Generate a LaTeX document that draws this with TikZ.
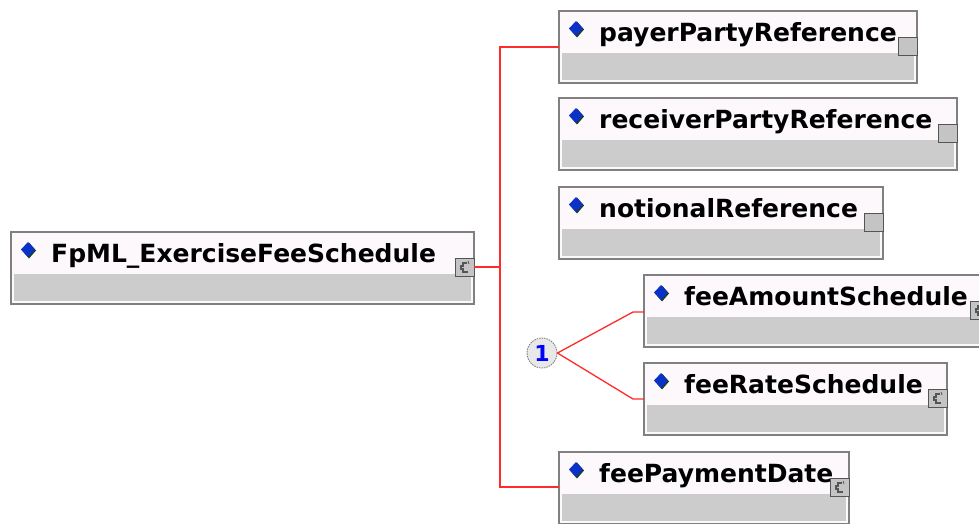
\documentclass[tikz,border=0pt]{standalone}
\usepackage{fontspec}
\setmainfont{DejaVu Sans}
\definecolor{hdr}{HTML}{FCF8FC}
\definecolor{body}{HTML}{CCCCCC}
\definecolor{frame}{HTML}{808080}
\definecolor{conncol}{HTML}{FF2A2A}
\definecolor{dia}{HTML}{0A32C8}
\definecolor{diash}{HTML}{1E3C1E}
\definecolor{iconfill}{HTML}{C4C4C4}
\definecolor{iconline}{HTML}{555555}
\tikzset{
  elem/.style={rectangle, draw=frame, line width=1.5pt, fill=hdr, minimum height=72pt, inner sep=0pt, outer sep=0pt},
  bodybox/.style={fill=body, draw=white!90!body, line width=0.8pt},
  lbl/.style={font=\fontsize{25}{30}\selectfont\bfseries, inner sep=0pt, anchor=base west},
  conn/.style={draw=conncol, line width=1.3pt},
  iconbox/.style={fill=iconfill, draw=iconline, line width=1pt},
  choicenode/.style={circle, draw=gray, dashed, dash pattern=on 1.5pt off 1pt, fill=black!9, line width=0.9pt, minimum size=30pt, inner sep=0pt, text=blue, font=\fontsize{22}{26}\selectfont\bfseries}
}
\newcommand\elembox[6]{%
  \node[elem, minimum width=#4, anchor=north west] (#1) at (#2,#3) {};
  \path[bodybox] ([shift={(2.5pt,2.5pt)}]#1.south west) rectangle ([shift={(-2.5pt,31pt)}]#1.south east);
  \fill[diash] ([shift={(18pt,-10.5pt)}]#1.north west) -- ([shift={(25pt,-18.5pt)}]#1.north west) -- ([shift={(18pt,-26.5pt)}]#1.north west) -- ([shift={(11pt,-18.5pt)}]#1.north west) -- cycle;
  \fill[dia] ([shift={(17pt,-10pt)}]#1.north west) -- ([shift={(24pt,-17.5pt)}]#1.north west) -- ([shift={(17pt,-25pt)}]#1.north west) -- ([shift={(10pt,-17.5pt)}]#1.north west) -- cycle;
  \node[lbl] (#1-t) at ([shift={(40pt,-30pt)}]#1.north west) {#5};
  \path[iconbox] ([shift={(-19pt,-26pt)}]#1.north east) rectangle ([shift={(0pt,-44pt)}]#1.north east);
  \ifnum#6=1
    \draw[iconline, line width=1.1pt] ([shift={(-7pt,-31pt)}]#1.north east) -- ([shift={(-11pt,-31pt)}]#1.north east) -- ([shift={(-11pt,-34pt)}]#1.north east) -- ([shift={(-13pt,-34pt)}]#1.north east) -- ([shift={(-13pt,-37pt)}]#1.north east) -- ([shift={(-11pt,-37pt)}]#1.north east) -- ([shift={(-11pt,-40pt)}]#1.north east) -- ([shift={(-6pt,-40pt)}]#1.north east);
    \draw[iconline, line width=0.8pt] ([shift={(-6pt,-29pt)}]#1.north east) -- ([shift={(-5pt,-32pt)}]#1.north east);
  \fi
}
\begin{document}
\begin{tikzpicture}[x=1pt,y=-1pt]
\clip (0,0) rectangle (979,523);
\fill[white] (0,0) rectangle (979,523);
\elembox{root}{11}{232}{463pt}{FpML\_ExerciseFeeSchedule}{1}
\elembox{payer}{559}{11}{358pt}{payerPartyReference}{0}
\elembox{recv}{559}{98}{398pt}{receiverPartyReference}{0}
\elembox{notl}{559}{187}{324pt}{notionalReference}{0}
\elembox{amt}{644}{275}{345pt}{feeAmountSchedule}{1}
\elembox{rate}{644}{363}{303pt}{feeRateSchedule}{1}
\elembox{pdate}{559}{452}{290pt}{feePaymentDate}{1}
\node[choicenode] (choice) at (542,353) {1};
\coordinate (trunk) at (500,267);
\draw[conn] ([yshift=-35pt]root.north east) -- (trunk);
\draw[conn] ([yshift=-36pt]payer.north west) -| (trunk) |- ([yshift=-35pt]pdate.north west);
\draw[conn] (choice.east) -- ([shift={(-11pt,-37pt)}]amt.north west) -- ([yshift=-37pt]amt.north west);
\draw[conn] (choice.east) -- ([shift={(-11pt,-36pt)}]rate.north west) -- ([yshift=-36pt]rate.north west);
\end{tikzpicture}
\end{document}
